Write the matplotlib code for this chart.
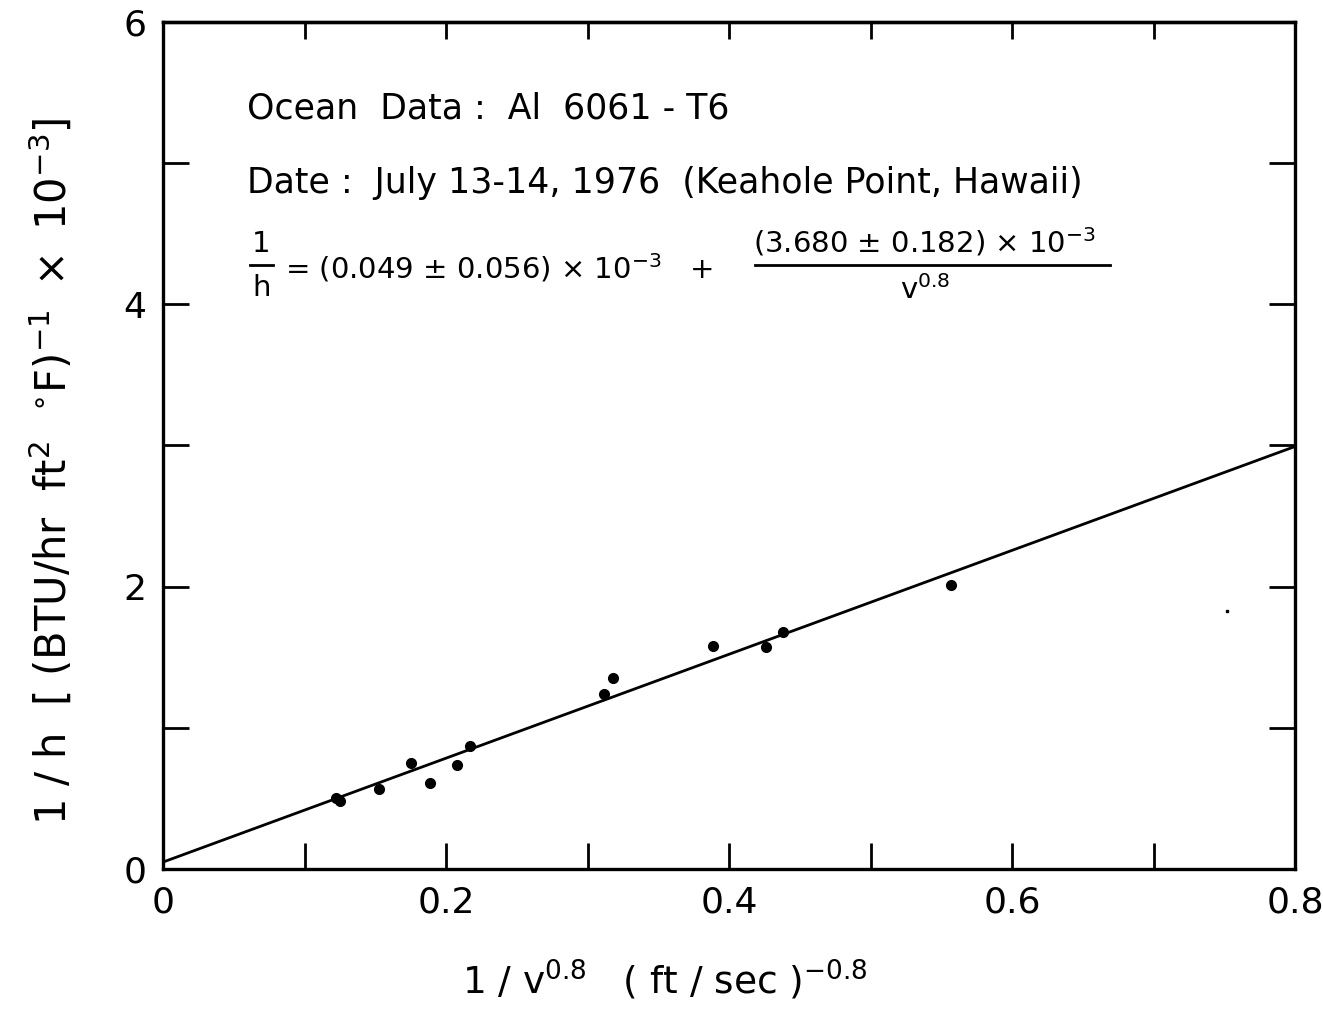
import numpy as np
import matplotlib
matplotlib.use("Agg")
import matplotlib.pyplot as plt
from matplotlib.ticker import MultipleLocator

plt.rcParams['font.family'] = ['DejaVu Sans']
plt.rcParams['mathtext.fontset'] = 'dejavusans'

# measured points, 1/v^0.8 vs 1/h (x 10^-3)
inv_v = [0.122, 0.125, 0.153, 0.175, 0.189, 0.208, 0.217,
         0.312, 0.318, 0.389, 0.426, 0.438, 0.557]
inv_h = [0.50, 0.48, 0.57, 0.75, 0.61, 0.74, 0.87,
         1.24, 1.35, 1.58, 1.57, 1.68, 2.01]
# stray speck on the original plot
speck_x = [0.752]
speck_y = [1.83]

# least squares fit given on the chart
intercept = 0.049
slope = 3.680

fig = plt.figure(figsize=(13.23, 10.11), dpi=100)
ax = fig.add_axes([163/1323, 142/1011, 1132/1323, 847/1011])

ax.plot(inv_v, inv_h, 'o', color='black', markersize=7)
ax.plot(speck_x, speck_y, 's', color='black', markersize=2)
xfit = np.array([0.0, 0.8])
ax.plot(xfit, intercept + slope * xfit, color='black', linewidth=2)

ax.set_xlim(0, 0.8)
ax.set_ylim(0, 6)
ax.xaxis.set_minor_locator(MultipleLocator(0.1))
ax.yaxis.set_minor_locator(MultipleLocator(1))
ax.set_xticks([0, 0.2, 0.4, 0.6, 0.8])
ax.set_xticklabels(['0', '0.2', '0.4', '0.6', '0.8'])
ax.set_yticks([0, 2, 4, 6])
ax.set_yticklabels(['0', '2', '4', '6'])
ax.tick_params(which='both', direction='in', top=False, right=True,
               length=19, width=2, labelsize=26, pad=12)
for s in ax.spines.values():
    s.set_linewidth(2.4)

# shorter ticks along the top edge
top = ax.secondary_xaxis('top')
top.xaxis.set_minor_locator(MultipleLocator(0.1))
top.set_xticks([0, 0.2, 0.4, 0.6, 0.8])
top.tick_params(which='both', direction='in', length=12, width=2, labeltop=False)
top.spines['top'].set_linewidth(2.4)

ax.set_xlabel(r'1 / v$^{0.8}$   ( ft / sec )$^{-0.8}$', fontsize=27)
ax.xaxis.set_label_coords(0.443, -0.105)
ax.set_ylabel(r'1 / h  $\left[\ (\mathrm{BTU/hr\ \ ft^{2}\ \ {}^{\circ}F})^{-1}\ \times\ 10^{-3}\right]$',
              fontsize=30)
ax.yaxis.set_label_coords(-0.077, 0.47)

tr = ax.transAxes
ax.text(0.074, 0.898, 'Ocean  Data :  Al  6061 - T6', transform=tr,
        fontsize=25, va='center', ha='left')
ax.text(0.074, 0.810, 'Date :  July 13-14, 1976  (Keahole Point, Hawaii)',
        transform=tr, fontsize=25, va='center', ha='left')
# 1/h fraction
ax.text(0.087, 0.738, '1', transform=tr, fontsize=21, va='center', ha='center')
ax.plot([0.077, 0.097], [0.713, 0.713], color='black', linewidth=2, transform=tr)
ax.text(0.087, 0.686, 'h', transform=tr, fontsize=21, va='center', ha='center')
ax.text(0.108, 0.710, r'= (0.049 ± 0.056) × 10$^{-3}$   +', transform=tr,
        fontsize=21, va='center', ha='left')
# second fraction
ax.text(0.673, 0.740, r'(3.680 ± 0.182) × 10$^{-3}$', transform=tr,
        fontsize=21, va='center', ha='center')
ax.plot([0.523, 0.837], [0.713, 0.713], color='black', linewidth=2, transform=tr)
ax.text(0.673, 0.684, r'v$^{0.8}$', transform=tr, fontsize=21,
        va='center', ha='center')

fig.savefig('out.png', dpi=100)
